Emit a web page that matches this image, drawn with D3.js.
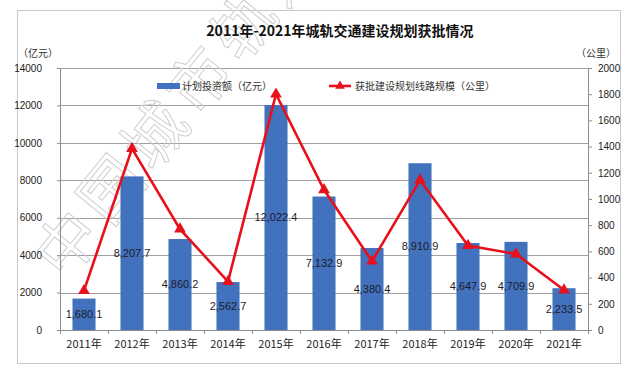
<!DOCTYPE html>
<html>
<head>
<meta charset="utf-8">
<script src="https://cdn.jsdelivr.net/npm/d3@7"></script>
<style>
body { margin: 0; background: #fff; }
svg { display: block; font-family: "Noto Sans CJK SC", "Noto Sans", sans-serif; }
</style>
</head>
<body>
<svg width="640" height="384"></svg>
<script>
var years = ["2011年","2012年","2013年","2014年","2015年","2016年","2017年","2018年","2019年","2020年","2021年"];
var invest = [1680.1, 8207.7, 4860.2, 2562.7, 12022.4, 7132.9, 4380.4, 8910.9, 4647.9, 4709.9, 2233.5];
var km = [300, 1385, 770, 370, 1800, 1070, 525, 1145, 645, 580, 305];
var leftTicks = [0, 2000, 4000, 6000, 8000, 10000, 12000, 14000];
var rightTicks = [0, 200, 400, 600, 800, 1000, 1200, 1400, 1600, 1800, 2000];

var svg = d3.select("svg"),
    pLeft = 60, pRight = 588, pTop = 68, pBottom = 330;

var data = years.map(function(y, i){ return {year: y, v: invest[i], k: km[i]}; });

// frame
svg.append("rect")
  .attr("x", 17.5).attr("y", 10.5)
  .attr("width", 603).attr("height", 353)
  .attr("fill", "none").attr("stroke", "#c8c8c8");

var x = d3.scaleBand().domain(years).range([pLeft, pRight]).paddingInner(0.52).paddingOuter(0.26);
var xb = d3.scaleBand().domain(years).range([pLeft, pRight]);
var yL = d3.scaleLinear().domain([0, 14000]).range([pBottom, pTop]);
var yR = d3.scaleLinear().domain([0, 2000]).range([pBottom, pTop]);

// grid
svg.append("g").selectAll("line")
  .data(leftTicks.slice(1))
  .enter().append("line")
  .attr("x1", pLeft).attr("x2", pRight)
  .attr("y1", function(d){ return Math.round(yL(d)) + 0.5; })
  .attr("y2", function(d){ return Math.round(yL(d)) + 0.5; })
  .attr("stroke", "#a0a0a0").attr("stroke-width", 1);

// watermark
svg.append("text")
  .attr("transform", "translate(65,282) rotate(-51)")
  .attr("font-size", 62)
  .attr("fill", "none")
  .attr("stroke", "#cfcfcf")
  .attr("stroke-width", 1)
  .attr("letter-spacing", 8)
  .text("中国城市轨道");

// axes
var axL = svg.append("g")
  .attr("transform", "translate(" + pLeft + ",0)")
  .call(d3.axisLeft(yL).tickValues(leftTicks).tickSize(3).tickPadding(15).tickFormat(d3.format("d")));
var axR = svg.append("g")
  .attr("transform", "translate(" + pRight + ",0)")
  .call(d3.axisRight(yR).tickValues(rightTicks).tickSize(4).tickPadding(6).tickFormat(d3.format("d")));
var axB = svg.append("g")
  .attr("transform", "translate(0," + pBottom + ")")
  .call(d3.axisBottom(xb).tickSize(0).tickPadding(10));

[axL, axR, axB].forEach(function(a){
  a.select(".domain").attr("stroke", "#8c8c8c");
  a.selectAll(".tick line").attr("stroke", "#8c8c8c");
  a.selectAll("text").attr("fill", "#222").attr("font-size", 10).attr("font-family", "Liberation Sans, Arial, sans-serif");
});
axB.selectAll("text").attr("font-size", 11).attr("font-family", "\"Noto Sans CJK SC\", sans-serif");

// category boundary ticks on bottom axis
svg.append("g").selectAll("line")
  .data(d3.range(years.length + 1))
  .enter().append("line")
  .attr("x1", function(i){ return pLeft + i * xb.step() + 0.5; })
  .attr("x2", function(i){ return pLeft + i * xb.step() + 0.5; })
  .attr("y1", pBottom).attr("y2", pBottom + 4)
  .attr("stroke", "#8c8c8c");

// bars
svg.append("g").selectAll("rect")
  .data(data)
  .enter().append("rect")
  .attr("x", function(d){ return x(d.year); })
  .attr("y", function(d){ return yL(d.v); })
  .attr("width", x.bandwidth())
  .attr("height", function(d){ return pBottom - yL(d.v); })
  .attr("fill", "#4271bd");

// line
var line = d3.line()
  .x(function(d){ return xb(d.year) + xb.bandwidth() / 2; })
  .y(function(d){ return yR(d.k); });

svg.append("path")
  .datum(data)
  .attr("d", line)
  .attr("fill", "none")
  .attr("stroke", "#e8101a")
  .attr("stroke-width", 2.6);

svg.append("g").selectAll("path")
  .data(data)
  .enter().append("path")
  .attr("d", d3.symbol().type(d3.symbolTriangle).size(60))
  .attr("transform", function(d){ return "translate(" + (xb(d.year) + xb.bandwidth() / 2) + "," + yR(d.k) + ")"; })
  .attr("fill", "#e8101a");

// bar value labels
svg.append("g").selectAll("text")
  .data(data)
  .enter().append("text")
  .attr("x", function(d){ return x(d.year) + x.bandwidth() / 2; })
  .attr("y", function(d){ return (yL(d.v) + pBottom) / 2; })
  .attr("dy", "0.35em")
  .attr("text-anchor", "middle")
  .attr("font-size", 11)
  .attr("font-family", "Liberation Sans, Arial, sans-serif")
  .attr("fill", "#1c1c2c")
  .text(function(d){ return d3.format(",.1f")(d.v); });

// title & units
svg.append("text")
  .attr("x", 340).attr("y", 36)
  .attr("text-anchor", "middle")
  .attr("font-size", 14).attr("font-weight", "bold")
  .attr("fill", "#111")
  .text("2011年-2021年城轨交通建设规划获批情况");

svg.append("text")
  .attr("x", 18).attr("y", 57)
  .attr("font-size", 10).attr("fill", "#333")
  .text("（亿元）");
svg.append("text")
  .attr("x", 616).attr("y", 57)
  .attr("text-anchor", "end")
  .attr("font-size", 10).attr("fill", "#333")
  .text("（公里）");

// legend
var lg = svg.append("g");
lg.append("rect")
  .attr("x", 157).attr("y", 83).attr("width", 23).attr("height", 6)
  .attr("fill", "#4271bd");
lg.append("text")
  .attr("x", 182).attr("y", 90)
  .attr("font-size", 10).attr("fill", "#333")
  .text("计划投资额（亿元）");
lg.append("line")
  .attr("x1", 329).attr("x2", 351).attr("y1", 86).attr("y2", 86)
  .attr("stroke", "#e8101a").attr("stroke-width", 2.6);
lg.append("path")
  .attr("d", d3.symbol().type(d3.symbolTriangle).size(40))
  .attr("transform", "translate(340,86)")
  .attr("fill", "#e8101a");
lg.append("text")
  .attr("x", 355).attr("y", 90)
  .attr("font-size", 10).attr("fill", "#333")
  .text("获批建设规划线路规模（公里）");
</script>
</body>
</html>
